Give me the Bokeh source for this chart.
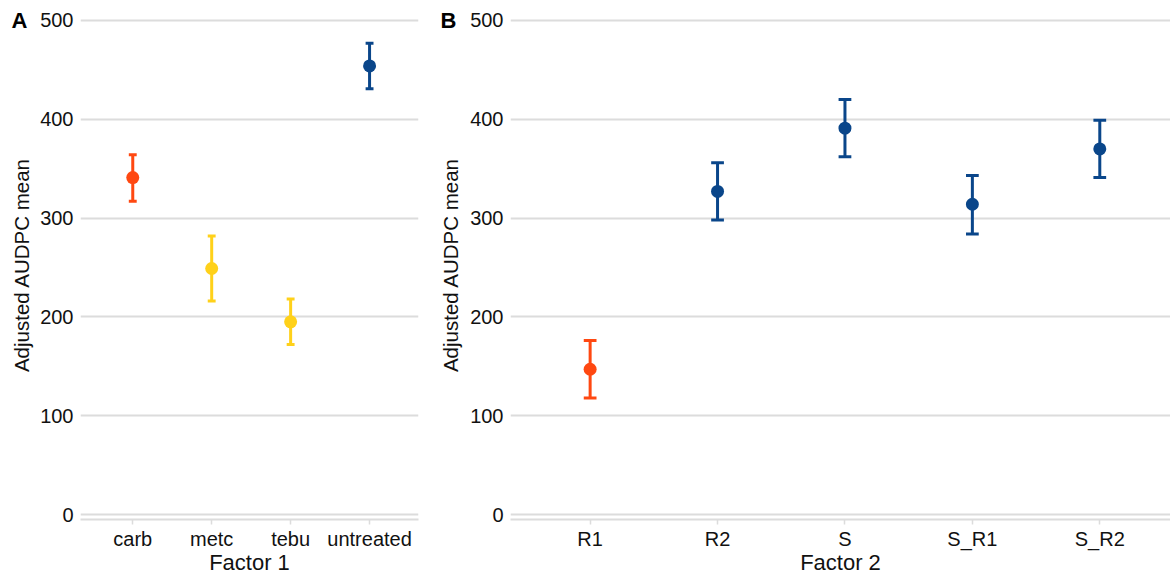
from bokeh.plotting import figure
from bokeh.models import Range1d, FixedTicker, LinearAxis, ColumnDataSource
from bokeh.layouts import row
from bokeh.embed import file_html
from bokeh.resources import INLINE

ORANGE = "#FF4811"
YELLOW = "#FFD11A"
BLUE = "#0A468A"

# Panel A data
f1_labels = ["carb", "metc", "tebu", "untreated"]
f1_mean = [341, 249, 195, 454]
f1_low = [317, 216, 172, 431]
f1_high = [364, 282, 218, 477]
f1_colors = [ORANGE, YELLOW, YELLOW, BLUE]

# Panel B data
f2_labels = ["R1", "R2", "S", "S_R1", "S_R2"]
f2_mean = [147, 327, 391, 314, 370]
f2_low = [118, 298, 362, 284, 341]
f2_high = [176, 356, 420, 343, 399]
f2_colors = [ORANGE, BLUE, BLUE, BLUE, BLUE]

y_ticks = [0, 100, 200, 300, 400, 500]
y_title = "Adjusted AUDPC mean"

FONT = "Liberation Sans"
GRID = "#dcdcdc"
TXT = "#111111"


def make_panel(labels, mean, low, high, colors, tag, xtitle,
               width, min_left, min_right, x_start, x_end, tag_standoff):
    n = len(labels)
    xs = list(range(1, n + 1))
    cap = 0.05
    src = ColumnDataSource(dict(
        x=xs, mean=mean, low=low, high=high, color=colors,
        xl=[x - cap for x in xs], xr=[x + cap for x in xs],
    ))
    p = figure(width=width, height=577, output_backend="svg",
               toolbar_location=None,
               x_range=Range1d(x_start, x_end),
               y_range=Range1d(-5.05, 510.1),
               min_border_left=min_left, min_border_right=min_right,
               min_border_top=10, min_border_bottom=57)
    p.outline_line_color = None
    p.background_fill_color = "white"
    p.border_fill_color = "white"

    # error bars
    p.segment(x0="x", y0="low", x1="x", y1="high", source=src,
              line_color="color", line_width=3, line_cap="butt")
    p.segment(x0="xl", y0="high", x1="xr", y1="high", source=src,
              line_color="color", line_width=3)
    p.segment(x0="xl", y0="low", x1="xr", y1="low", source=src,
              line_color="color", line_width=3)
    p.scatter(x="x", y="mean", source=src, size=13,
              fill_color="color", line_color="color", line_width=0)

    # x axis
    xa = p.xaxis[0]
    xa.ticker = FixedTicker(ticks=xs)
    xa.major_label_overrides = {x: lab for x, lab in zip(xs, labels)}
    xa.axis_line_color = GRID
    xa.axis_line_width = 2
    xa.major_tick_line_color = GRID
    xa.major_tick_line_width = 1.5
    xa.major_tick_out = 5
    xa.major_tick_in = 0
    xa.minor_tick_line_color = None
    xa.major_label_text_font = FONT
    xa.major_label_text_font_size = "20px"
    xa.major_label_text_color = TXT
    xa.major_label_standoff = 3
    xa.axis_label = xtitle
    xa.axis_label_text_font = FONT
    xa.axis_label_text_font_size = "22px"
    xa.axis_label_text_font_style = "normal"
    xa.axis_label_text_color = TXT
    xa.axis_label_standoff = -3

    # y axis (tick labels only)
    ya = p.yaxis[0]
    ya.ticker = FixedTicker(ticks=y_ticks)
    ya.axis_line_color = None
    ya.major_tick_line_color = None
    ya.minor_tick_line_color = None
    ya.major_tick_out = 0
    ya.major_tick_in = 0
    ya.minor_tick_out = 0
    ya.major_label_text_font = FONT
    ya.major_label_text_font_size = "20px"
    ya.major_label_text_color = TXT
    ya.major_label_standoff = 7

    # outer left axis: panel tag + y title
    ta = LinearAxis(ticker=FixedTicker(ticks=[500]),
                    major_label_overrides={500: tag})
    ta.axis_line_color = None
    ta.major_tick_line_color = None
    ta.minor_tick_line_color = None
    ta.major_tick_out = 0
    ta.major_tick_in = 0
    ta.minor_tick_out = 0
    ta.major_label_text_font = FONT
    ta.major_label_text_font_size = "22px"
    ta.major_label_text_font_style = "bold"
    ta.major_label_text_color = "#000000"
    ta.major_label_standoff = tag_standoff
    ta.axis_label = y_title
    ta.axis_label_text_font = FONT
    ta.axis_label_text_font_size = "20.5px"
    ta.axis_label_text_font_style = "normal"
    ta.axis_label_text_color = TXT
    ta.axis_label_standoff = -24
    p.add_layout(ta, "left")

    p.xgrid.grid_line_color = None
    p.ygrid.ticker = FixedTicker(ticks=y_ticks)
    p.ygrid.grid_line_color = GRID
    p.ygrid.grid_line_width = 1.8
    return p


p1 = make_panel(f1_labels, f1_mean, f1_low, f1_high, f1_colors, "A", "Factor 1",
                width=435, min_left=80, min_right=17, x_start=0.338, x_end=4.62,
                tag_standoff=10)
p2 = make_panel(f2_labels, f2_mean, f2_low, f2_high, f2_colors, "B", "Factor 2",
                width=735, min_left=74, min_right=0, x_start=0.375, x_end=5.555,
                tag_standoff=11)

layout = row(p1, p2)
open("out.html", "w").write(file_html(layout, INLINE))
